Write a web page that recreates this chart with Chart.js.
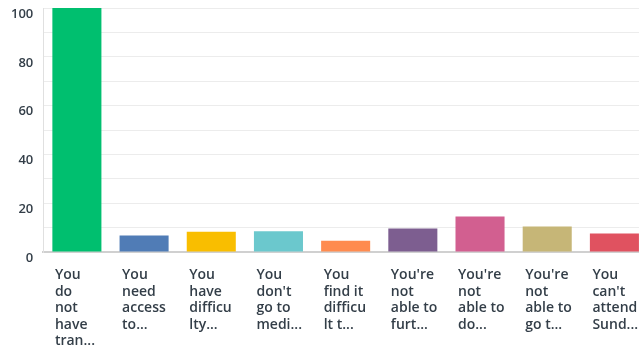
<!DOCTYPE html>
<html>
<head>
<meta charset="utf-8">
<script src="https://cdn.jsdelivr.net/npm/chart.js@4/dist/chart.umd.min.js"></script>
<style>
  html, body { margin: 0; padding: 0; background: #ffffff; overflow: hidden; }
  #wrap { width: 639px; height: 350px; position: relative; overflow: hidden; }
</style>
</head>
<body>
<div id="wrap"><canvas id="c" width="648" height="350"></canvas></div>
<script>
const categories = [
  ["You", "do", "not", "have", "tran..."],
  ["You", "need", "access", "to..."],
  ["You", "have", "difficu", "lty..."],
  ["You", "don't", "go to", "medi..."],
  ["You", "find it", "difficu", "lt t..."],
  ["You're", "not", "able to", "furt..."],
  ["You're", "not", "able to", "do..."],
  ["You're", "not", "able to", "go t..."],
  ["You", "can't", "attend", "Sund..."]
];
const values = [100, 6.8, 8.3, 8.5, 4.6, 9.6, 14.6, 10.4, 7.6];
const barColors = ["#00bf6f", "#507cb6", "#f9be00", "#6bc8cd", "#ff8b4f", "#7d5e90", "#d25f90", "#c6b677", "#e05260"];
const yTickLabels = [0, 20, 40, 60, 80, 100];

new Chart(document.getElementById('c'), {
  type: 'bar',
  data: {
    labels: categories,
    datasets: [{
      data: values,
      backgroundColor: barColors,
      borderWidth: 0,
      barPercentage: 0.73,
      categoryPercentage: 1.0
    }]
  },
  options: {
    responsive: false,
    animation: false,
    layout: { padding: { top: 8, right: 0, bottom: 0, left: 1 } },
    plugins: { legend: { display: false }, tooltip: { enabled: false } },
    scales: {
      x: {
        grid: { display: false, drawTicks: false },
        border: { display: true, color: '#d0d0d0', width: 2 },
        afterFit: function (s) { s.paddingLeft = 0; s.paddingRight = 0; s.height = 98; },
        ticks: {
          color: '#333e48',
          font: { family: 'Open Sans', size: 14, weight: '600', lineHeight: 1.18 },
          align: 'start',
          labelOffset: -22,
          padding: 15,
          maxRotation: 0,
          autoSkip: false
        }
      },
      y: {
        min: 0,
        max: 100,
        grid: { color: '#ececec', lineWidth: 1, drawTicks: false },
        border: { display: true, color: '#e0e0e0', width: 1 },
        afterFit: function (s) { s.paddingTop = 0; s.paddingBottom = 0; },
        ticks: {
          stepSize: 10,
          color: '#333e48',
          font: { family: 'Open Sans', size: 13, weight: '600' },
          padding: 10,
          labelOffset: 6,
          callback: function (v) { return yTickLabels.includes(v) ? String(v) : ''; }
        }
      }
    }
  }
});
</script>
</body>
</html>
